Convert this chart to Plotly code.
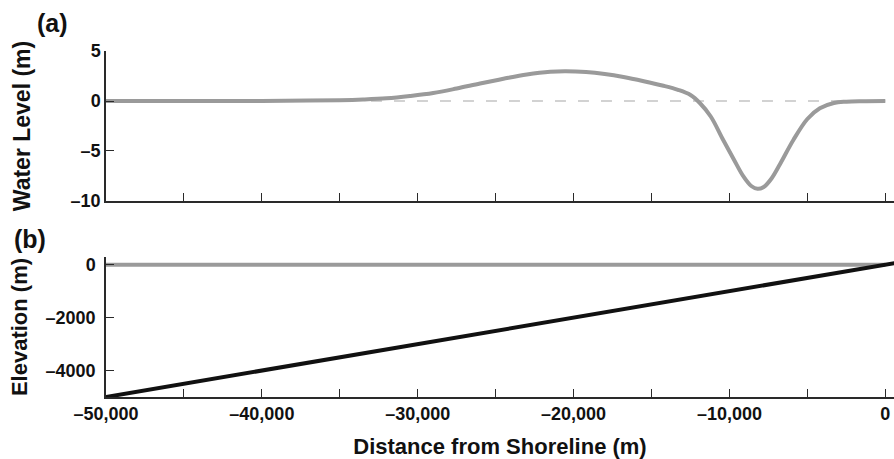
import plotly.graph_objects as go

# Water level along the transect (m)
distance = [-50000, -45000, -40000, -37000, -35000, -33500, -32000, -30500, -29000,
            -27500, -26000, -24500, -23000, -21500, -20500, -19200, -18000, -16800,
            -15500, -14300, -13300, -12500, -11900, -11200, -10400, -9700, -9100,
            -8600, -8200, -7800, -7300, -6750, -5900, -5000, -4200, -3300, -2500,
            -1500, 0]
water_level = [0, 0, 0.01, 0.04, 0.08, 0.15, 0.27, 0.5, 0.8, 1.25, 1.75, 2.22, 2.65,
               2.93, 2.98, 2.9, 2.7, 2.4, 1.98, 1.55, 1.12, 0.6, -0.2, -1.55, -3.9,
               -5.9, -7.55, -8.5, -8.78, -8.6, -7.75, -6.3, -3.9, -1.8, -0.73, -0.2,
               -0.07, -0.02, 0]

# Still-water reference line
ref_x = [-33000, 0]
ref_y = [0, 0]

# Sloping sea bed (m)
bed_x = [-50000, 600]
bed_z = [-5000, 60]

x_ticks = [-50000, -40000, -30000, -20000, -10000, 0]
x_tick_text = ["\u201350,000", "\u201340,000", "\u201330,000", "\u201320,000", "\u201310,000", "0"]
wl_ticks = [5, 0, -5, -10]
wl_tick_text = ["5", "0", "\u20135", "\u201310"]
el_ticks = [0, -2000, -4000]
el_tick_text = ["0", "\u20132000", "\u20134000"]

FONT = "Liberation Sans"
GRAY = "#9a9a9a"
AXIS = "#2a2a2a"
TEXT = "#111111"

fig = go.Figure()

fig.add_trace(go.Scatter(x=ref_x, y=ref_y, mode="lines", xaxis="x", yaxis="y",
                         line=dict(color="#c4c4c4", width=1.5, dash="11px,12px"),
                         showlegend=False, hoverinfo="skip"))
fig.add_trace(go.Scatter(x=distance, y=water_level, mode="lines", xaxis="x", yaxis="y",
                         line=dict(color=GRAY, width=4, shape="spline", smoothing=1.0),
                         showlegend=False))
fig.add_trace(go.Scatter(x=distance, y=water_level, mode="lines", xaxis="x2", yaxis="y2",
                         line=dict(color=GRAY, width=4),
                         showlegend=False))
fig.add_trace(go.Scatter(x=bed_x, y=bed_z, mode="lines", xaxis="x2", yaxis="y2",
                         line=dict(color="#111111", width=4),
                         showlegend=False))

x_range = [-50000, 558]
common_x = dict(range=x_range, showline=True, linecolor=AXIS, linewidth=1.5,
                showgrid=False, zeroline=False, ticks="inside", ticklen=8,
                tickwidth=1.2, tickcolor=AXIS,
                tickvals=x_ticks, ticktext=x_tick_text,
                minor=dict(ticks="inside", ticklen=8, tickwidth=1.2, tickcolor=AXIS,
                           dtick=5000, tick0=-50000, showgrid=False),
                tickfont=dict(family=FONT, size=18, color=TEXT, weight="bold"))
common_y = dict(showline=True, linecolor=AXIS, linewidth=1.5, showgrid=False,
                zeroline=False, ticks="inside", ticklen=8, tickwidth=1.2,
                tickcolor=AXIS,
                tickfont=dict(family=FONT, size=18, color=TEXT, weight="bold"))

fig.update_layout(
    width=894, height=459,
    margin=dict(l=106, r=0, t=51, b=62),
    paper_bgcolor="white", plot_bgcolor="white",
    xaxis=dict(**common_x, domain=[0, 1], anchor="y", showticklabels=False),
    yaxis=dict(**common_y, domain=[0.5665, 1], anchor="x", range=[-10, 5],
               tickvals=wl_ticks, ticktext=wl_tick_text,
               title=dict(text="Water Level (m)", standoff=34,
                          font=dict(family=FONT, size=23, color=TEXT, weight="bold"))),
    xaxis2=dict(**common_x, domain=[0, 1], anchor="y2",
                title=dict(text="Distance from Shoreline (m)", standoff=15,
                           font=dict(family=FONT, size=22, color=TEXT, weight="bold"))),
    yaxis2=dict(**common_y, domain=[0, 0.4046], anchor="x2", range=[-5000, 290],
                tickvals=el_ticks, ticktext=el_tick_text, ticklabelstandoff=5,
                title=dict(text="Elevation (m)", standoff=12,
                           font=dict(family=FONT, size=22, color=TEXT, weight="bold"))),
    annotations=[
        dict(text="(a)", xref="paper", yref="paper", x=-0.0679, y=1.081,
             xanchor="center", yanchor="middle", showarrow=False,
             font=dict(family=FONT, size=25, color=TEXT, weight="bold")),
        dict(text="(b)", xref="paper", yref="paper", x=-0.0964, y=0.4555,
             xanchor="center", yanchor="middle", showarrow=False,
             font=dict(family=FONT, size=25, color=TEXT, weight="bold")),
    ],
)

fig.write_html("out.html")
